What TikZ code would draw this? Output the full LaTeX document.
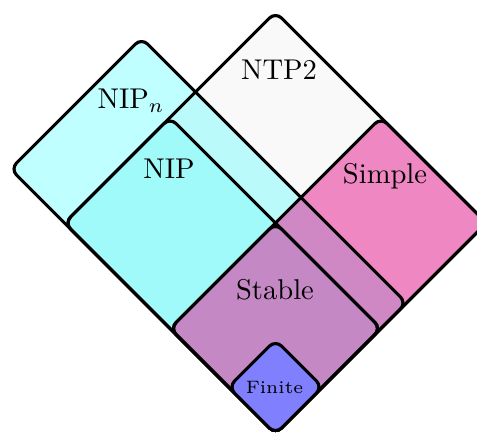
\documentclass[tikz,border=0pt]{standalone}
\begin{document}
\definecolor{simplec}{RGB}{231,23,143}
\definecolor{cyanc}{RGB}{0,255,255}
\definecolor{finitec}{RGB}{128,128,255}
\definecolor{ntpc}{RGB}{249,249,249}
\tikzset{
  outline/.style={draw=black, line width=1.1pt, rounded corners=3pt},
  shade/.style={rounded corners=3pt},
  lbl/.style={inner sep=0pt, anchor=base}
}
\begin{tikzpicture}[x=0.35pt,y=-0.35pt]
\useasboundingbox (0,0) rectangle (477,432);
\clip (0,0) rectangle (477,432);
\coordinate (B) at (275.5,434);
\coordinate (L1) at (64.5,223);
\coordinate (T1) at (275.5,12);
\coordinate (R1) at (486.5,223);
\coordinate (L2) at (10.5,169);
\coordinate (T2) at (141.5,38);
\coordinate (R2) at (406.5,303);
\coordinate (T3) at (170,117.5);
\coordinate (R3) at (381,328.5);
\coordinate (L4) at (170,328.5);
\coordinate (T4) at (381,117.5);
\coordinate (T5) at (275.5,223);
\coordinate (L6) at (228.5,387);
\coordinate (T6) at (275.5,340);
\coordinate (R6) at (322.5,387);
% fills
\fill[shade, ntpc] (B) -- (L1) -- (T1) -- (R1) -- cycle;
\fill[shade, cyanc, fill opacity=0.25] (B) -- (L2) -- (T2) -- (R2) -- cycle;
\fill[shade, cyanc, fill opacity=0.13] (B) -- (L1) -- (T3) -- (R3) -- cycle;
\fill[shade, simplec, fill opacity=0.5] (B) -- (L4) -- (T4) -- (R1) -- cycle;
% outlines
\draw[outline] (B) -- (L1) -- (T1) -- (R1) -- cycle;
\draw[outline] (B) -- (L2) -- (T2) -- (R2) -- cycle;
\draw[outline] (B) -- (L1) -- (T3) -- (R3) -- cycle;
\draw[outline] (B) -- (L4) -- (T4) -- (R1) -- cycle;
\draw[outline] (B) -- (L4) -- (T5) -- (R3) -- cycle;
\draw[outline, fill=finitec] (B) -- (L6) -- (T6) -- (R6) -- cycle;
% labels
\node[lbl] (nipn) at (131,108) {NIP$_n$};
\node[lbl] (ntp) at (279,79) {NTP2};
\node[lbl] (nip) at (169,178) {NIP};
\node[lbl] (simple) at (385,183) {Simple};
\node[lbl] (stable) at (275,299) {Stable};
\node[lbl, font=\fontsize{6.3}{7}\selectfont] (finite) at (274.5,393.7) {Finite};
\end{tikzpicture}
\end{document}
